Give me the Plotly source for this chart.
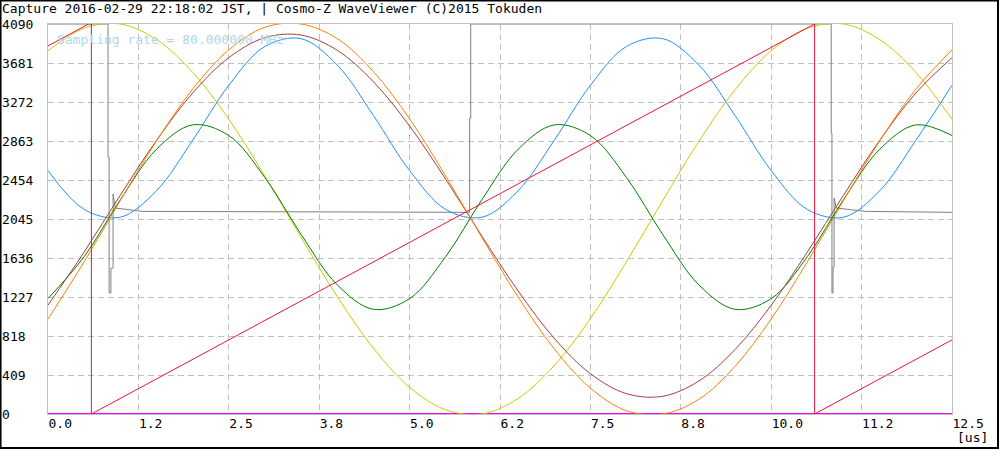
import plotly.graph_objects as go

# time axis [us], one sample every 0.5 us
t = [0.0, 0.5, 1.0, 1.5, 2.0, 2.5, 3.0, 3.5, 4.0, 4.5, 5.0, 5.5, 6.0,
     6.5, 7.0, 7.5, 8.0, 8.5, 9.0, 9.5, 10.0, 10.5, 11.0, 11.5, 12.0, 12.5]

ch_yellow = [3810, 4046, 4090, 3927, 3583, 3091, 2492, 1852, 1231, 690, 280, 44, 0,
             163, 507, 1001, 1598, 2238, 2859, 3400, 3810, 4046, 4090, 3927, 3583, 3091]
ch_orange = [996, 1596, 2239, 2863, 3407, 3819, 4056, 4090, 3936, 3590, 3096, 2494, 1851,
             1227, 683, 271, 34, 0, 154, 500, 996, 1596, 2239, 2863, 3407, 3819]
ch_brown = [1141, 1699, 2295, 2869, 3366, 3737, 3947, 3974, 3814, 3484, 3019, 2461, 1865,
            1291, 794, 423, 213, 186, 346, 676, 1141, 1699, 2295, 2869, 3366, 3737]
ch_blue = [2553, 2145, 2064, 2341, 2870, 3447, 3855, 3936, 3659, 3130, 2553, 2145, 2064,
           2341, 2870, 3447, 3855, 3936, 3659, 3130, 2553, 2145, 2064, 2341, 2870, 3447]
ch_green = [1211, 1650, 2247, 2776, 3032, 2920, 2479, 1883, 1354, 1098, 1210, 1651, 2248,
            2776, 3032, 2920, 2479, 1883, 1354, 1098, 1210, 1651, 2248, 2776, 3032, 2920]

# sawtooth (red)
saw_t = [0.0, 0.56, 0.6, 0.6, 10.6, 10.6, 12.5]
saw_v = [3860, 4090, 4090, 0, 4090, 0, 777]

# trigger / gate (gray)
gate_t = [0.0, 0.83, 0.83, 0.845, 0.845, 0.87, 0.87, 0.9, 0.9, 0.93, 1.3, 5.83,
          5.83, 5.845, 5.845, 10.83, 10.83, 10.84, 10.84, 10.855, 10.855, 10.87, 10.87,
          10.9, 11.3, 12.5]
gate_v = [4090, 4090, 2695, 2695, 1269, 1269, 1530, 1530, 2307, 2160, 2125, 2115,
          3100, 3100, 4090, 4090, 2946, 2946, 1269, 1269, 1540, 1540, 2265,
          2160, 2125, 2115]

# baseline (magenta)
base_t = [0.0, 12.5]
base_v = [0, 0]

x_ticks = [0, 1.25, 2.5, 3.75, 5.0, 6.25, 7.5, 8.75, 10.0, 11.25, 12.5]
x_labels = ["0.0", "1.2", "2.5", "3.8", "5.0", "6.2", "7.5", "8.8", "10.0", "11.2", "12.5"]
y_ticks = [0, 409, 818, 1227, 1636, 2045, 2454, 2863, 3272, 3681, 4090]
y_labels = [str(v).ljust(4, "\u00a0") for v in y_ticks]

MONO = "DejaVu Sans Mono"

fig = go.Figure()

fig.add_trace(go.Scatter(x=base_t, y=base_v, mode="lines",
                         line=dict(color="#ff00ff", width=2), name="base"))
fig.add_trace(go.Scatter(x=gate_t, y=gate_v, mode="lines",
                         line=dict(color="#808080", width=1), name="gate"))

for vals, color, name in [
    (ch_yellow, "#cccc00", "ch1"),
    (ch_blue, "#1e90ff", "ch2"),
    (ch_green, "#008000", "ch3"),
    (ch_brown, "#a04040", "ch4"),
    (ch_orange, "#ff8000", "ch5"),
]:
    fig.add_trace(go.Scatter(x=t, y=vals, mode="lines",
                             line=dict(color=color, width=1, shape="spline", smoothing=1),
                             name=name))

fig.add_trace(go.Scatter(x=saw_t, y=saw_v, mode="lines",
                         line=dict(color="#ee1144", width=1), name="saw"))

fig.update_layout(
    width=1000,
    height=450,
    showlegend=False,
    plot_bgcolor="white",
    paper_bgcolor="white",
    margin=dict(l=48, r=48, t=24, b=36, autoexpand=False),
    font=dict(family=MONO, size=13, color="black"),
    title=dict(
        text="Capture 2016-02-29 22:18:02 JST, | Cosmo-Z WaveViewer (C)2015 Tokuden",
        x=0.002, xanchor="left", xref="container",
        y=0.982, yanchor="middle", yref="container",
        font=dict(family=MONO, size=13, color="black"),
    ),
    xaxis=dict(
        range=[0, 12.5], automargin=False,
        tickvals=x_ticks, ticktext=x_labels,
        ticks="", ticklabelposition="outside right", ticklabelstandoff=-3,
        showgrid=True, gridcolor="#c0c0c0", griddash="6px,4px", gridwidth=1,
        zeroline=False,
        showline=True, mirror=True, linecolor="#c0c0c0", linewidth=1,
    ),
    yaxis=dict(
        range=[0, 4090], automargin=False,
        tickvals=y_ticks, ticktext=y_labels,
        ticks="", ticklabelstandoff=11,
        showgrid=True, gridcolor="#c0c0c0", griddash="6px,4px", gridwidth=1,
        zeroline=False,
        showline=True, mirror=True, linecolor="#c0c0c0", linewidth=1,
    ),
    annotations=[
        dict(text="Sampling rate = 80.000000 MHz", xref="paper", yref="paper",
             x=0.0077, y=0.9615, xanchor="left", yanchor="middle", showarrow=False,
             font=dict(family=MONO, size=13, color="#add8e6")),
        dict(text="[us]", xref="paper", yref="paper",
             x=1.042, y=-0.0615, xanchor="right", yanchor="middle", showarrow=False,
             font=dict(family=MONO, size=13, color="black")),
    ],
    shapes=[
        dict(type="rect", xref="paper", yref="paper",
             x0=-0.0525, x1=1.0509, y0=-0.0872, y1=1.0603,
             line=dict(color="black", width=2), layer="above"),
    ],
)

fig.write_html("out.html", config={"displayModeBar": False},
               post_script="document.body.style.margin='0px';")
